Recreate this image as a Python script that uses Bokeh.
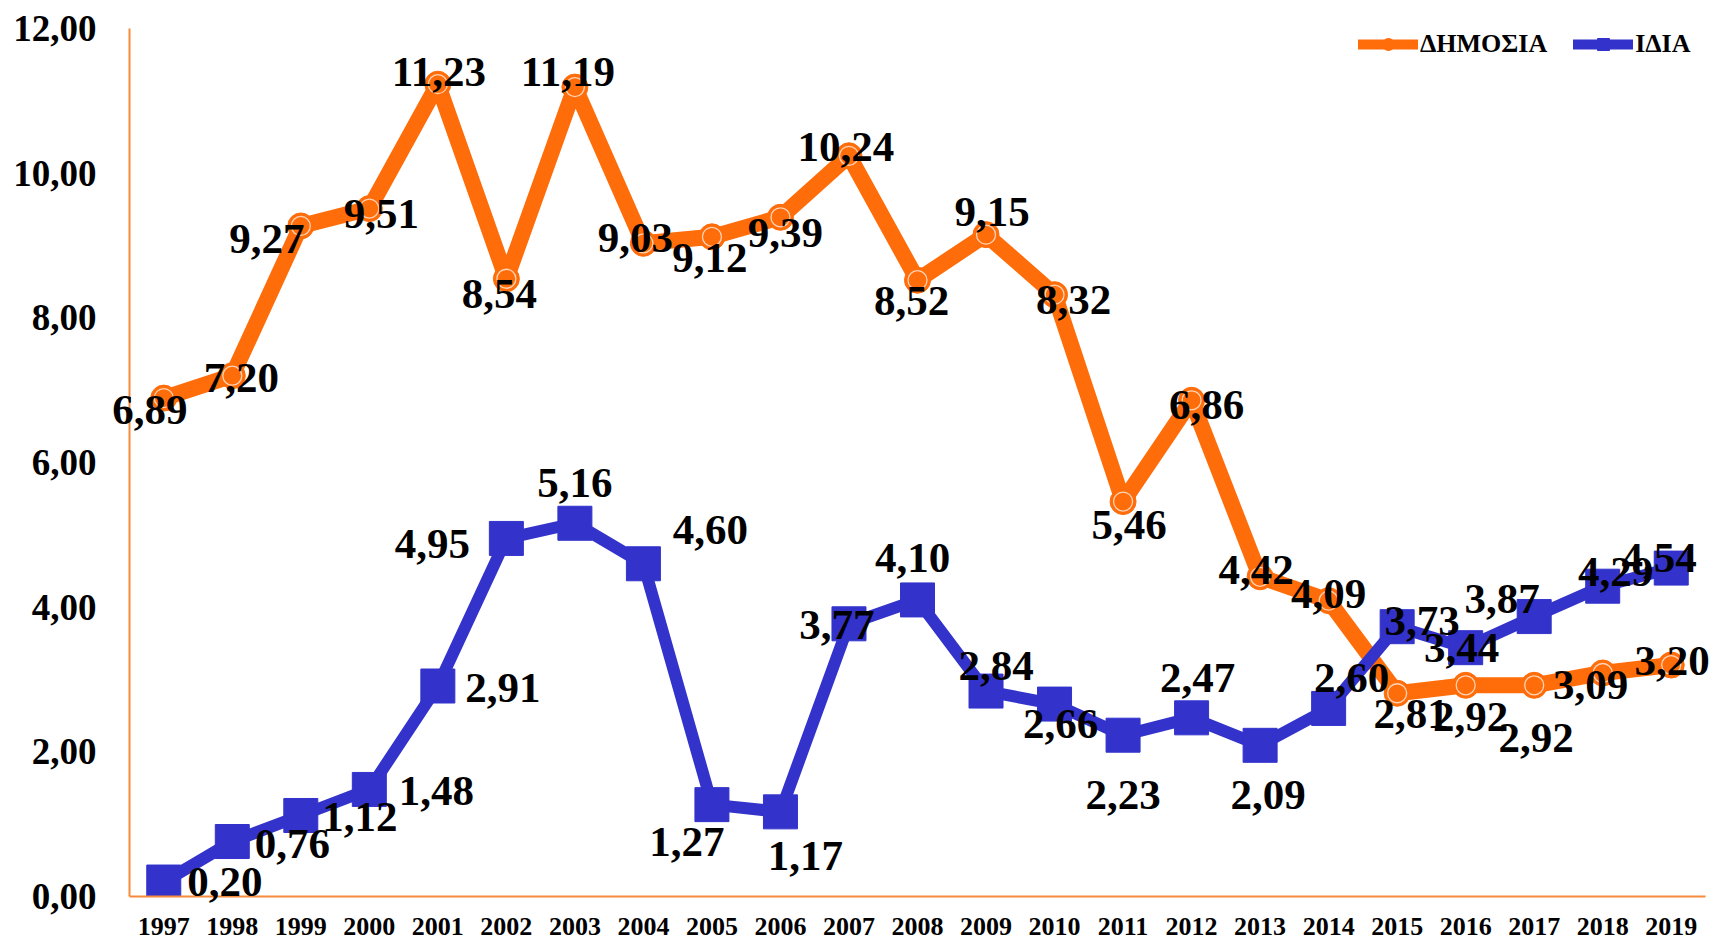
from bokeh.plotting import figure
from bokeh.models import (FactorRange, Range1d, FixedTicker, ColumnDataSource,
                          Legend, LegendItem)
from bokeh.core.properties import value
from bokeh.embed import file_html
from bokeh.resources import INLINE

# ---- data ----
years = [str(y) for y in range(1997, 2020)]
public = [6.89, 7.20, 9.27, 9.51, 11.23, 8.54, 11.19, 9.03, 9.12, 9.39, 10.24, 8.52,
          9.15, 8.32, 5.46, 6.86, 4.42, 4.09, 2.81, 2.92, 2.92, 3.09, 3.20]
own = [0.20, 0.76, 1.12, 1.48, 2.91, 4.95, 5.16, 4.60, 1.27, 1.17, 3.77, 4.10,
       2.84, 2.66, 2.23, 2.47, 2.09, 2.60, 3.73, 3.44, 3.87, 4.29, 4.54]
series_names = ["ΔΗΜΟΣΙΑ", "ΙΔΙΑ"]
y_ticks = [0, 2, 4, 6, 8, 10, 12]
y_tick_labels = ["0,00", "2,00", "4,00", "6,00", "8,00", "10,00", "12,00"]

# ---- label placement (screen px offsets, style only) ----
pub_dx = [-14, 9, -34, 12, 1, -7, -7, -8, -2, 5, -3, -6, 6, 19, 6, 15, -4, 0, 14, 5, 2, -12, 1]
pub_dy = [12, 2, 13, 5, -12, 15, -15, -5, 21, 16, -9, 21, -23, 5, 23, 5, -7, -7, 21, 32, 53, 12, -4]
own_dx = [61, 60, 59, 67, 65, -74, 0, 67, -25, 25, -12, -5, 10, 6, 0, 6, 8, 23, 25, -4, -32, 13, -12]
own_dy = [0, 2, 2, 2, 2, 6, -40, -34, 37, 44, 1, -42, -25, 20, 60, -40, 50, -30, -6, 0, -18, -14, -10]

ORANGE = "#FF6D0A"
BLUE = "#3333CC"
AXIS = "#F58A3A"
FONT = "Liberation Serif"
NAN = float("nan")

def fmt(v):
    return f"{v:.2f}".replace(".", ",")

src_pub = ColumnDataSource(dict(x=years, y=public, t=[fmt(v) for v in public],
                                dx=pub_dx, dy=pub_dy))
src_own = ColumnDataSource(dict(x=years, y=own, t=[fmt(v) for v in own],
                                dx=own_dx, dy=own_dy))
src_years = ColumnDataSource(dict(x=years, t=years))

p = figure(width=1713, height=941, x_range=FactorRange(*years), y_range=Range1d(0, 12),
           output_backend="svg", toolbar_location=None,
           min_border_left=129, min_border_right=8, min_border_top=28, min_border_bottom=45)
p.outline_line_color = None
p.xgrid.visible = False
p.ygrid.visible = False
p.background_fill_color = "white"

# public series
p.line("x", "y", source=src_pub, line_color=ORANGE, line_width=16, line_join="round", line_cap="round")
p.scatter("x", "y", source=src_pub, marker="circle", size=26, fill_color=ORANGE, line_color=ORANGE)
p.scatter("x", "y", source=src_pub, marker="circle", size=19, fill_color=None,
          line_color="white", line_alpha=0.7, line_width=1.3)

# own series
p.line("x", "y", source=src_own, line_color=BLUE, line_width=12, line_join="round")
p.scatter("x", "y", source=src_own, marker="square", size=34, fill_color=BLUE, line_color=BLUE)

# value labels (overlay level, so they may cross the axis like in the original)
for src in (src_pub, src_own):
    p.text("x", "y", text="t", source=src, x_offset="dx", y_offset="dy",
           text_align="center", text_baseline="middle", text_font=value(FONT),
           text_font_style="bold", text_font_size="43px", text_color="black",
           level="overlay")

# legend (display-only renderers, no visible data)
lg_pub_line = p.line(x=[years[0]], y=[NAN], line_color=ORANGE, line_width=10, line_cap="round")
lg_pub_mark = p.scatter(x=[years[0]], y=[NAN], marker="circle", size=14, fill_color=ORANGE, line_color=ORANGE)
lg_own_line = p.line(x=[years[0]], y=[NAN], line_color=BLUE, line_width=10, line_cap="round")
lg_own_mark = p.scatter(x=[years[0]], y=[NAN], marker="square", size=18, fill_color=BLUE, line_color=BLUE)
legend = Legend(items=[LegendItem(label=series_names[0], renderers=[lg_pub_line, lg_pub_mark]),
                       LegendItem(label=series_names[1], renderers=[lg_own_line, lg_own_mark])],
                orientation="horizontal", location=(1229, 837))
legend.border_line_color = None
legend.background_fill_alpha = 0
legend.label_text_font = FONT
legend.label_text_font_style = "bold"
legend.label_text_font_size = "26px"
legend.label_text_color = "black"
legend.glyph_width = 60
legend.glyph_height = 30
legend.label_height = 30
legend.label_standoff = 2
legend.spacing = 26
legend.padding = 0
legend.margin = 0
p.add_layout(legend)

# axes
p.yaxis.ticker = FixedTicker(ticks=y_ticks)
p.yaxis.major_label_overrides = {t: l for t, l in zip(y_ticks, y_tick_labels)}
for ax in (p.xaxis, p.yaxis):
    ax.axis_line_color = AXIS
    ax.axis_line_width = 2
    ax.major_tick_line_color = None
    ax.minor_tick_line_color = None
    ax.major_tick_out = 0
    ax.major_tick_in = 0
    ax.major_label_text_font = FONT
    ax.major_label_text_font_style = "bold"
    ax.major_label_text_color = "black"
p.yaxis.major_label_text_font_size = "37px"
p.yaxis.major_label_standoff = 33
# category labels: drawn at the axis line, a little lower than the axis panel allows
p.xaxis.major_label_text_color = None
p.xaxis.major_label_text_font_size = "10px"
p.xaxis.major_label_standoff = 0
p.text("x", 0, text="t", source=src_years, y_offset=30,
       text_align="center", text_baseline="middle", text_font=value(FONT),
       text_font_style="bold", text_font_size="26px", text_color="black",
       level="overlay")

open("out.html", "w").write(file_html(p, INLINE))
